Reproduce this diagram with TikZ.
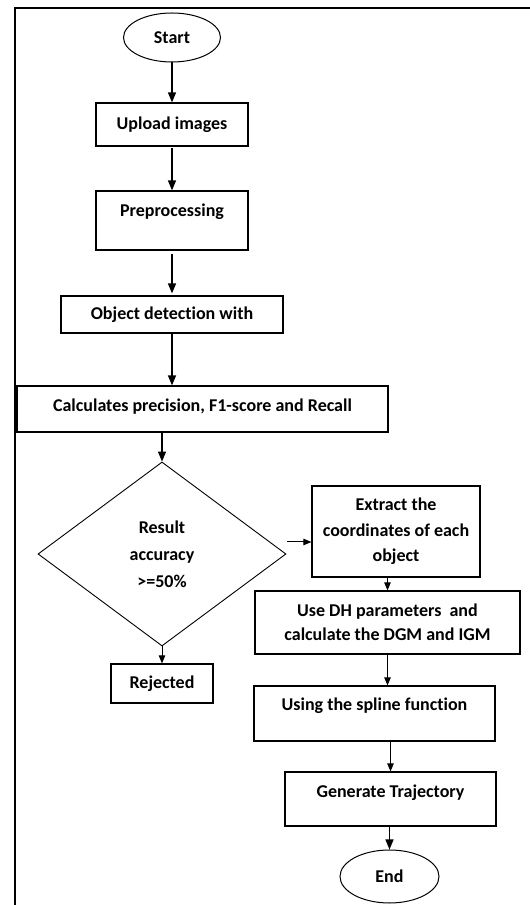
\documentclass[tikz,border=0pt]{standalone}
\usepackage{fontspec}
\setmainfont{Carlito}[Ligatures=NoCommon]
\usetikzlibrary{shapes.geometric,arrows.meta,calc}
\begin{document}
\begin{tikzpicture}[x=1bp,y=1bp,
  txt/.style={font=\fontsize{18bp}{25.5bp}\selectfont\bfseries, align=center},
  box/.style={txt, draw=black, line width=1.2bp, rectangle, inner sep=0pt},
  term/.style={txt, draw=black, line width=1bp, ellipse, inner sep=0pt},
  dia/.style={txt, draw=black, line width=0.9bp, diamond, inner sep=0pt},
  arr/.style={draw=black, line width=1.3bp, -{Triangle[length=10bp,width=8bp]}},
  arrs/.style={draw=black, line width=1bp, -{Triangle[length=8bp,width=6.5bp]}},
  frame/.style={draw=black, line width=1.6bp}]
\useasboundingbox (0,0) rectangle (530,905);
\draw[frame] (15,0) -- (15,897) -- (530,897);

\node[term, minimum width=97bp, minimum height=49bp] (start) at (172,867.5) {Start};
\node[box, minimum width=152bp, minimum height=43bp] (upload) at (172,780.5) {Upload images};
\node[box, minimum width=152bp, minimum height=59bp] (pre) at (172,684.5) {\raisebox{8.5bp}[12.5bp][3.5bp]{Preprocessing}};
\node[box, minimum width=222bp, minimum height=37bp] (obj) at (172,590.5) {Object detection with};
\node[box, minimum width=371bp, minimum height=46bp] (calc) at (202.5,496) {\raisebox{2bp}[12.5bp][3.5bp]{Calculates precision, F1-score and Recall}};
\node[dia, minimum width=248bp, minimum height=184bp, font=\fontsize{18bp}{27bp}\selectfont\bfseries] (dec) at (162,351) {Result\\accuracy\\{>=}50\%};
\node[box, minimum width=168bp, minimum height=91bp] (extract) at (396,373.5) {Extract the\\coordinates of each\\object};
\node[box, minimum width=265bp, minimum height=63bp, font=\fontsize{18bp}{24bp}\selectfont\bfseries] (dh) at (387.5,282.5) {Use DH parameters~~and\\calculate the DGM and IGM};
\node[box, minimum width=102bp, minimum height=39bp] (rej) at (162,221.5) {Rejected};
\node[box, minimum width=241bp, minimum height=55bp] (spline) at (374.5,191.5) {\raisebox{7.5bp}[12.5bp][3.5bp]{Using the spline function}};
\node[box, minimum width=211bp, minimum height=54bp] (gen) at (390.5,106) {\raisebox{6bp}[12.5bp][3.5bp]{Generate Trajectory}};
\node[term, minimum width=99bp, minimum height=53bp] (endn) at (389.5,28.5) {End};

\draw[arr] (start.south) -- (upload.north);
\draw[arr] ([yshift=-1bp]upload.south) -- (pre.north);
\draw[arr] ([yshift=-3bp]pre.south) -- ([yshift=2bp]obj.north);
\draw[arr] (obj.south) -- (obj.south |- calc.north);
\draw[arr] (dec.north |- calc.south) -- (dec.north);
\coordinate (dr) at ([xshift=1bp,yshift=12bp]dec.east);
\draw[arrs] (dr) -- (dr -| extract.west);
\draw[arrs] (dh.north |- extract.south) -- (dh.north);
\draw[arrs] (dec.south) -- (rej.north);
\draw[arrs] (dh.south) -- (dh.south |- spline.north);
\draw[arrs] (gen.north |- spline.south) -- (gen.north);
\draw[arr] (endn.north |- gen.south) -- (endn.north);
\end{tikzpicture}
\end{document}
